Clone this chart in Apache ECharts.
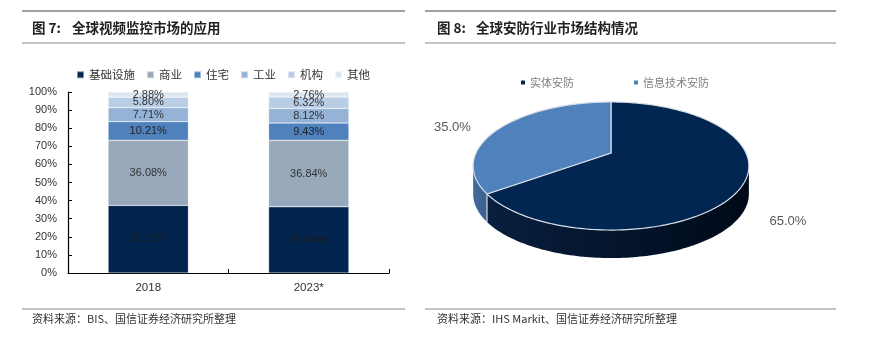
<!DOCTYPE html>
<html>
<head>
<meta charset="utf-8">
<script src="https://cdn.jsdelivr.net/npm/echarts@6/dist/echarts.min.js"></script>
<style>
html,body{margin:0;padding:0;background:#fff;}
#c{width:881px;height:338px;}
</style>
</head>
<body>
<div id="c"></div>
<script>
// ---- Data ----
const barCategories = ['2018', '2023*'];
const barSeriesNames = ['基础设施', '商业', '住宅', '工业', '机构', '其他'];
const infra = [37.33, 36.54];
const commercial = [36.08, 36.84];
const residential = [10.21, 9.43];
const industrial = [7.71, 8.12];
const institution = [5.80, 6.32];
const others = [2.88, 2.76];
const yTicks = [0, 10, 20, 30, 40, 50, 60, 70, 80, 90, 100];

const pieNames = ['实体安防', '信息技术安防'];
const pieValues = [65.0, 35.0];

// ---- Styles ----
const barColors = ['#022550', '#97a9ba', '#4f81bd', '#95b3d7', '#b9cde5', '#dce6f2'];
const barValues = [infra, commercial, residential, industrial, institution, others];
const labelColors = ['#1a1a1a', '#333', '#222', '#333', '#333', '#333'];

const pieTop = ['#022652', '#4f81bd'];
const pieSide = [['#081f3e', '#000a19'], ['#44699a', '#3a6090']];
const pieLabelOffset = [[26, 38, 'left'], [-30, 0, 'right']];
const PIE = { cx: 611, cy: 153, rx: 135, a: 61.4, c: -0.203, depth: 28 };

const CJK = '"Noto Sans CJK SC", "Noto Sans", sans-serif';
const LAT = '"Liberation Sans", Arial, sans-serif';

function proj(theta, dy) {
  const u = Math.sin(theta), v = -Math.cos(theta);
  const den = 1 + PIE.c * v;
  return [PIE.cx + PIE.rx * u / den, PIE.cy + PIE.a * v / den + (dy || 0)];
}
function arcPoints(t1, t2, dy) {
  const pts = [];
  const n = Math.max(2, Math.ceil(Math.abs(t2 - t1) / 0.02));
  for (let k = 0; k <= n; k++) pts.push(proj(t1 + (t2 - t1) * k / n, dy));
  return pts;
}
const pieTotal = pieValues.reduce((s, v) => s + v, 0);
const visA = Math.acos(PIE.c), visB = 2 * Math.PI - Math.acos(PIE.c);

function makePieRender(i) {
  return function (params, api) {
    let start = 0;
    for (let k = 0; k < i; k++) start += pieValues[k] / pieTotal * 2 * Math.PI;
    const val = api.value(0);
    const end = start + val / pieTotal * 2 * Math.PI;
    const children = [];
    const s1 = Math.max(start, visA), s2 = Math.min(end, visB);
    if (s2 > s1) {
      const top = arcPoints(s1, s2, 0);
      const bot = arcPoints(s2, s1, PIE.depth);
      children.push({
        type: 'polygon',
        shape: { points: top.concat(bot) },
        style: {
          fill: new echarts.graphic.LinearGradient(0, 0, 1, 0, [
            { offset: 0, color: pieSide[i][0] }, { offset: 1, color: pieSide[i][1] }
          ])
        }
      });
      if (start >= visA && start <= visB) {
        const p = proj(start, 0);
        children.push({ type: 'line', shape: { x1: p[0], y1: p[1], x2: p[0], y2: p[1] + PIE.depth },
          style: { stroke: '#d8dee6', lineWidth: 1.2 } });
      }
    }
    const pts = [[PIE.cx, PIE.cy]].concat(arcPoints(start, end, 0));
    children.push({
      type: 'polygon',
      shape: { points: pts },
      style: { fill: pieTop[i], stroke: '#d8dee6', lineWidth: 1.2, lineJoin: 'round' }
    });
    const mid = (start + end) / 2;
    const mp = proj(mid, 0);
    const off = pieLabelOffset[i];
    children.push({
      type: 'text',
      style: {
        text: val.toFixed(1) + '%',
        x: mp[0] + off[0], y: mp[1] + off[1],
        fill: '#595959', fontSize: 13, fontFamily: LAT,
        align: off[2], verticalAlign: 'middle'
      }
    });
    return { type: 'group', children: children };
  };
}

const chart = echarts.init(document.getElementById('c'), null, { renderer: 'canvas' });

const series = barSeriesNames.map((name, i) => ({
  name: name,
  type: 'bar',
  stack: 'total',
  barWidth: '50%',
  data: barValues[i],
  itemStyle: { color: barColors[i], borderColor: 'rgba(255,255,255,0.5)', borderWidth: 0.5 },
  label: {
    show: true, position: 'inside', color: labelColors[i], fontSize: 11, fontFamily: LAT,
    formatter: p => p.value.toFixed(2) + '%'
  },
  emphasis: { disabled: true }
}));

pieNames.forEach((name, i) => {
  series.push({
    name: name,
    type: 'custom',
    coordinateSystem: 'none',
    renderItem: makePieRender(i),
    data: [[pieValues[i]]],
    itemStyle: { color: pieTop[i] },
    silent: true
  });
});

const lineStyleDark = { stroke: '#444', lineWidth: 1.2 };
const lineStyleGray = { stroke: '#888', lineWidth: 1.2 };

chart.setOption({
  animation: false,
  backgroundColor: '#fff',
  textStyle: { fontFamily: LAT },
  grid: { left: 68, right: 492, top: 92, bottom: 65 },
  legend: [
    {
      data: barSeriesNames, left: 71, top: 64, icon: 'rect', itemWidth: 7, itemHeight: 7,
      itemGap: 11, selectedMode: false,
      textStyle: { color: '#333', fontSize: 11.5, fontFamily: CJK }
    },
    {
      data: pieNames, left: 516, top: 72, icon: 'rect', itemWidth: 4, itemHeight: 4,
      itemGap: 60, selectedMode: false,
      textStyle: { color: '#7f7f7f', fontSize: 11, fontFamily: CJK }
    }
  ],
  xAxis: {
    type: 'category', data: barCategories,
    axisLine: { lineStyle: { color: '#000', width: 1.2 } },
    axisTick: { show: true, inside: true, length: 4, lineStyle: { color: '#000' } },
    axisLabel: { color: '#333', fontSize: 11.5, margin: 9, fontFamily: LAT }
  },
  yAxis: {
    type: 'value', min: yTicks[0], max: yTicks[yTicks.length - 1], interval: yTicks[1] - yTicks[0],
    axisLine: { show: true, lineStyle: { color: '#000', width: 1.2 } },
    axisTick: { show: true, inside: true, length: 4, lineStyle: { color: '#000' } },
    splitLine: { show: false },
    axisLabel: { formatter: '{value}%', color: '#333', fontSize: 11, margin: 11, fontFamily: LAT }
  },
  series: series,
  graphic: [
    { type: 'line', shape: { x1: 22, y1: 11, x2: 405, y2: 11 }, style: lineStyleDark },
    { type: 'line', shape: { x1: 22, y1: 43, x2: 405, y2: 43 }, style: lineStyleGray },
    { type: 'line', shape: { x1: 22, y1: 309, x2: 405, y2: 309 }, style: lineStyleGray },
    { type: 'line', shape: { x1: 425, y1: 11, x2: 836, y2: 11 }, style: lineStyleDark },
    { type: 'line', shape: { x1: 425, y1: 43, x2: 836, y2: 43 }, style: lineStyleGray },
    { type: 'line', shape: { x1: 425, y1: 309, x2: 836, y2: 309 }, style: lineStyleGray },
    { type: 'text', x: 32, y: 28, style: { text: '图 7:', fill: '#222', fontSize: 13.5, fontWeight: 'bold', fontFamily: CJK, verticalAlign: 'middle' } },
    { type: 'text', x: 72, y: 28, style: { text: '全球视频监控市场的应用', fill: '#222', fontSize: 13.5, fontWeight: 'bold', fontFamily: CJK, verticalAlign: 'middle' } },
    { type: 'text', x: 437, y: 28, style: { text: '图 8:', fill: '#222', fontSize: 13.5, fontWeight: 'bold', fontFamily: CJK, verticalAlign: 'middle' } },
    { type: 'text', x: 476, y: 28, style: { text: '全球安防行业市场结构情况', fill: '#222', fontSize: 13.5, fontWeight: 'bold', fontFamily: CJK, verticalAlign: 'middle' } },
    { type: 'text', x: 32, y: 319, style: { text: '资料来源：BIS、国信证券经济研究所整理', fill: '#333', fontSize: 11, fontFamily: CJK, verticalAlign: 'middle' } },
    { type: 'text', x: 437, y: 319, style: { text: '资料来源：IHS Markit、国信证券经济研究所整理', fill: '#333', fontSize: 11, fontFamily: CJK, verticalAlign: 'middle' } }
  ]
});
</script>
</body>
</html>
